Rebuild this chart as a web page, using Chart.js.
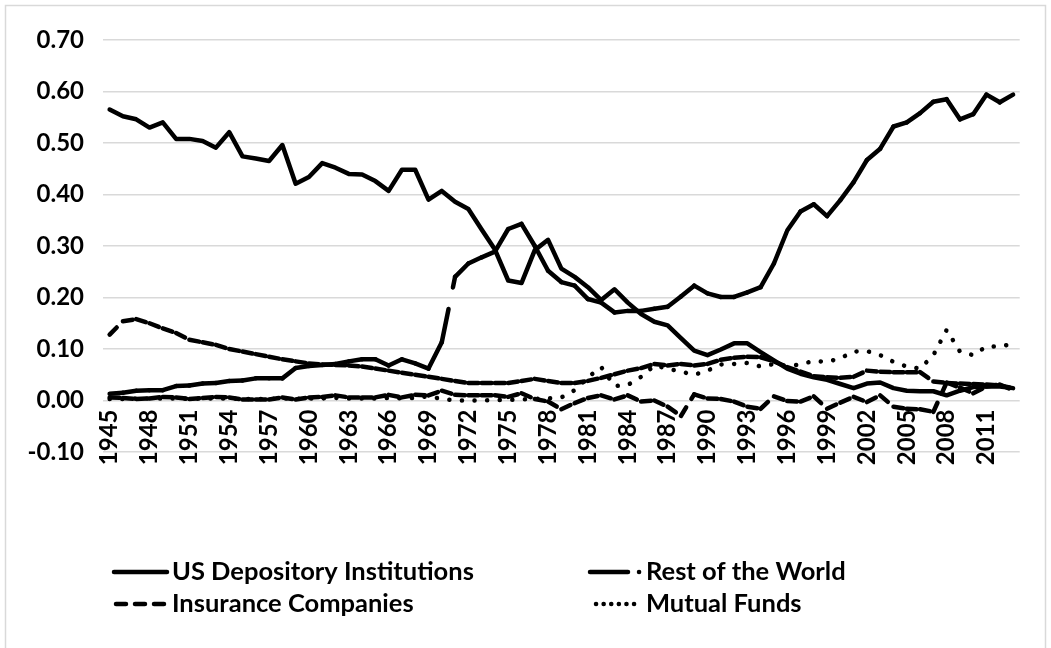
<!DOCTYPE html>
<html>
<head>
<meta charset="utf-8">
<script src="https://cdn.jsdelivr.net/npm/chart.js@4.4.1/dist/chart.umd.min.js"></script>
<style>
  html, body { margin: 0; padding: 0; background: #fff; }
</style>
</head>
<body>
<canvas id="myChart" width="1051" height="648"></canvas>
<script>
// categories
const years = [1945, 1946, 1947, 1948, 1949, 1950, 1951, 1952, 1953, 1954,
  1955, 1956, 1957, 1958, 1959, 1960, 1961, 1962, 1963, 1964,
  1965, 1966, 1967, 1968, 1969, 1970, 1971, 1972, 1973, 1974,
  1975, 1976, 1977, 1978, 1979, 1980, 1981, 1982, 1983, 1984,
  1985, 1986, 1987, 1988, 1989, 1990, 1991, 1992, 1993, 1994,
  1995, 1996, 1997, 1998, 1999, 2000, 2001, 2002, 2003, 2004,
  2005, 2006, 2007, 2008, 2009, 2010, 2011, 2012, 2013];

// years that get a label on the x axis
const tickYears = [1945, 1948, 1951, 1954, 1957, 1960, 1963, 1966, 1969, 1972,
  1975, 1978, 1981, 1984, 1987, 1990, 1993, 1996, 1999, 2002, 2005, 2008, 2011];

const depository = [0.565, 0.552, 0.546, 0.530, 0.540, 0.508, 0.508, 0.504, 0.491, 0.521,
  0.474, 0.470, 0.465, 0.496, 0.421, 0.434, 0.461, 0.452, 0.440, 0.439,
  0.426, 0.407, 0.448, 0.448, 0.390, 0.407, 0.386, 0.372, 0.332, 0.293,
  0.233, 0.228, 0.292, 0.312, 0.256, 0.240, 0.220, 0.195, 0.216, 0.190,
  0.168, 0.153, 0.146, 0.121, 0.097, 0.088, 0.099, 0.111, 0.111, 0.094,
  0.078, 0.062, 0.052, 0.045, 0.040, 0.032, 0.024, 0.033, 0.035, 0.024,
  0.019, 0.018, 0.018, 0.010, 0.019, 0.026, 0.027, 0.027, 0.024];

const restOfWorld = [0.013, 0.015, 0.019, 0.020, 0.020, 0.028, 0.029, 0.033, 0.034, 0.038,
  0.039, 0.043, 0.043, 0.043, 0.063, 0.067, 0.069, 0.071, 0.076, 0.080,
  0.080, 0.068, 0.080, 0.072, 0.062, 0.113, 0.240, 0.266, 0.278, 0.289,
  0.333, 0.343, 0.300, 0.252, 0.230, 0.223, 0.197, 0.190, 0.171, 0.174,
  0.174, 0.178, 0.182, 0.202, 0.223, 0.208, 0.201, 0.201, 0.210, 0.220,
  0.266, 0.330, 0.367, 0.381, 0.358, 0.389, 0.424, 0.467, 0.489, 0.532,
  0.540, 0.558, 0.580, 0.585, 0.546, 0.556, 0.594, 0.579, 0.594];

const insurance = [0.128, 0.154, 0.158, 0.150, 0.140, 0.131, 0.118, 0.113, 0.108, 0.100,
  0.095, 0.090, 0.085, 0.080, 0.076, 0.072, 0.070, 0.069, 0.068, 0.066,
  0.062, 0.058, 0.054, 0.050, 0.046, 0.042, 0.038, 0.034, 0.034, 0.034,
  0.034, 0.038, 0.042, 0.038, 0.034, 0.034, 0.038, 0.044, 0.051, 0.058,
  0.063, 0.071, 0.068, 0.071, 0.068, 0.071, 0.079, 0.083, 0.085, 0.084,
  0.076, 0.065, 0.056, 0.047, 0.045, 0.044, 0.046, 0.058, 0.056, 0.055,
  0.055, 0.055, 0.037, 0.034, 0.033, 0.032, 0.031, 0.029, 0.024];

const mutualFunds = [0.003, 0.003, 0.004, 0.004, 0.004, 0.004, 0.003, 0.004, 0.004, 0.004,
  0.003, 0.003, 0.003, 0.004, 0.003, 0.004, 0.004, 0.005, 0.004, 0.004,
  0.004, 0.005, 0.004, 0.005, 0.008, 0.003, 0.000, 0.000, 0.000, 0.001,
  0.001, 0.002, 0.003, 0.004, 0.006, 0.020, 0.045, 0.065, 0.028, 0.030,
  0.046, 0.068, 0.062, 0.056, 0.050, 0.058, 0.070, 0.071, 0.073, 0.066,
  0.071, 0.067, 0.070, 0.077, 0.075, 0.082, 0.095, 0.096, 0.088, 0.075,
  0.066, 0.062, 0.088, 0.137, 0.095, 0.088, 0.105, 0.105, 0.110];

// fifth series, its legend entry is not visible in the picture
const otherSeries = [0.006, 0.005, 0.003, 0.004, 0.007, 0.006, 0.003, 0.005, 0.007, 0.006,
  0.002, 0.002, 0.002, 0.006, 0.002, 0.006, 0.007, 0.010, 0.006, 0.006,
  0.006, 0.011, 0.006, 0.011, 0.010, 0.019, 0.011, 0.010, 0.010, 0.010,
  0.007, 0.014, 0.003, -0.002, -0.017, -0.005, 0.005, 0.010, 0.002, 0.010,
  -0.002, 0.000, -0.012, -0.030, 0.012, 0.004, 0.003, -0.002, -0.012, -0.016,
  0.008, -0.001, -0.002, 0.008, -0.016, -0.004, 0.007, -0.003, 0.010, -0.012,
  -0.016, -0.017, -0.022, 0.035, 0.025, 0.014, 0.027, 0.031, 0.020];

const labelFont = { family: 'Lato, "Open Sans", sans-serif', size: 24, weight: 'bold' };

// Excel starts the dash pattern again at every point, so each segment is stroked on its own
function restartDash(ctx) {
  return ctx.p0DataIndex % 2 ? 0.0001 : 0;
}

function lineSet(label, data, dash, perSegment) {
  const ds = {
    label: label,
    data: data,
    borderColor: '#000',
    borderWidth: 4.5,
    borderDash: dash,
    borderCapStyle: 'round',
    borderJoinStyle: 'round',
    pointRadius: 0,
    pointHoverRadius: 0,
    tension: 0,
    fill: false
  };
  if (perSegment) {
    ds.segment = { borderDashOffset: restartDash };
  }
  return ds;
}

// legend drawn like the Excel one: two aligned columns
const legendPlugin = {
  id: 'excelLegend',
  afterDraw(chart) {
    const ctx = chart.ctx;
    const items = [
      { text: 'US Depository Institutions', y: 572, textX: 172, pieces: [[114, 167, []]] },
      { text: 'Rest of the World', y: 572, textX: 646, pieces: [[590, 628, []], [639, 639.1, []]] },
      { text: 'Insurance Companies', y: 604, textX: 172, pieces: [[116, 167, [10, 9]]] },
      { text: 'Mutual Funds', y: 604, textX: 646, pieces: [[596, 640, [0.1, 7.5]]] }
    ];
    ctx.save();
    ctx.strokeStyle = '#000';
    ctx.lineWidth = 4.5;
    ctx.lineCap = 'round';
    items.forEach(item => {
      item.pieces.forEach(p => {
        ctx.setLineDash(p[2]);
        ctx.beginPath();
        ctx.moveTo(p[0], item.y);
        ctx.lineTo(p[1], item.y);
        ctx.stroke();
      });
    });
    ctx.setLineDash([]);
    ctx.fillStyle = '#000';
    ctx.font = 'bold 25.5px Lato, "Open Sans", sans-serif';
    ctx.textBaseline = 'middle';
    ctx.textAlign = 'left';
    items.forEach(item => {
      ctx.fillText(item.text, item.textX, item.y);
    });
    ctx.restore();
  }
};

const borderPlugin = {
  id: 'chartBorder',
  beforeDraw(chart) {
    const ctx = chart.ctx;
    ctx.save();
    ctx.fillStyle = '#fff';
    ctx.fillRect(0, 0, chart.width, chart.height);
    ctx.strokeStyle = '#d9d9d9';
    ctx.lineWidth = 1.5;
    ctx.strokeRect(5.5, 5.5, 1040, 680);
    ctx.restore();
  }
};

new Chart('myChart', {
  type: 'line',
  data: {
    labels: years,
    datasets: [
      lineSet('US Depository Institutions', depository, [], false),
      lineSet('Rest of the World', restOfWorld, [34, 22], true),
      lineSet('Insurance Companies', insurance, [10, 10], true),
      lineSet('Mutual Funds', mutualFunds, [0.1, 12.5], false),
      lineSet('Other', otherSeries, [10, 10], true)
    ]
  },
  options: {
    responsive: false,
    animation: false,
    devicePixelRatio: 1,
    layout: { padding: { left: 0, right: 18, top: 40, bottom: 196 } },
    plugins: {
      legend: { display: false },
      tooltip: { enabled: false }
    },
    scales: {
      x: {
        position: { y: 0 },
        offset: true,
        grid: { display: false, drawTicks: false },
        border: { display: false },
        ticks: {
          autoSkip: false,
          maxRotation: 90,
          minRotation: 90,
          padding: 9,
          color: '#000',
          font: labelFont,
          callback: function (value, index) {
            const yr = years[index];
            return tickYears.includes(yr) ? String(yr) : '';
          }
        }
      },
      y: {
        min: -0.1,
        max: 0.7,
        afterFit: function (scale) { scale.width = 103; },
        grid: { color: '#d9d9d9', lineWidth: 1.5, drawTicks: false },
        border: { display: false },
        ticks: {
          stepSize: 0.1,
          padding: 19,
          color: '#000',
          font: labelFont,
          callback: v => (Math.abs(v) < 1e-9 ? 0 : v).toFixed(2)
        }
      }
    }
  },
  plugins: [borderPlugin, legendPlugin]
});
</script>
</body>
</html>
